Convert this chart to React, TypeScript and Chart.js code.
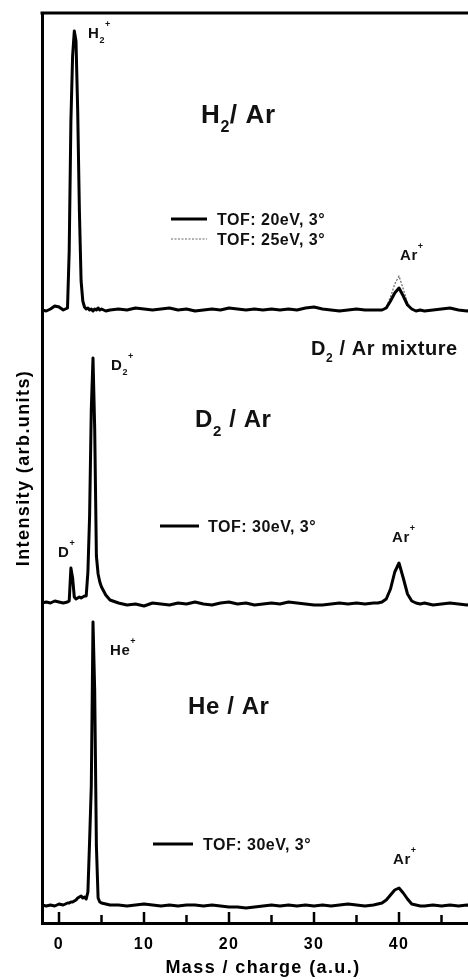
import React, { useEffect, useRef } from "react";
import { Chart, registerables } from "chart.js";

Chart.register(...registerables);

// ---------- data ----------
const MASS = [
  -2, -1.5, -1, -0.5, 0, 0.5, 1,
  1.2, 1.4, 1.6, 1.8, 2, 2.2, 2.4, 2.6, 2.8, 3, 3.2, 3.4, 3.6, 3.8, 4, 4.2, 4.4, 4.6, 4.8, 5,
  5.5, 6,
  7, 8, 9, 10, 11, 12, 13, 14, 15, 16, 17, 18, 19, 20, 21, 22, 23, 24, 25, 26, 27, 28, 29, 30, 31, 32, 33, 34, 35, 36, 37,
  37.5, 38, 38.5, 39, 39.5, 40, 40.5, 41, 41.5, 42, 42.5,
  43, 44, 45, 46, 47, 48, 49, 50,
];

// H2 / Ar, TOF 20 eV, 3 deg (solid)
const H2_AR_20EV = [
  1, 0, 2, 5, 4, 1, 3,
  60, 190, 255, 280, 270, 200, 100, 30, 10, 4, 2, 3, 1, 2, 0, 2, 1, 3, 1, 2,
  0, 1,
  2, 1, 3, 2, 1, 2, 3, 1, 2, 0, 1, 2, 1, 3, 2, 1, 2, 1, 2, 1, 2, 1, 3, 4, 2, 1, 0, 1, 2, 1, 1,
  1, 1, 3, 10, 18, 23, 15, 6, 2, 0, 1,
  0, 1, 2, 3, 1, 0, 2, 1,
];

// H2 / Ar, TOF 25 eV, 3 deg (dotted)
const H2_AR_25EV = [
  1, 0, 2, 4, 5, 2, 3,
  50, 178, 258, 276, 262, 210, 110, 34, 9, 3, 2, 2, 1, 2, 1, 2, 1, 2, 1, 2,
  1, 1,
  2, 1, 2, 2, 1, 2, 3, 1, 2, 1, 1, 2, 1, 3, 2, 1, 2, 1, 2, 1, 2, 1, 3, 4, 2, 1, 1, 1, 2, 1, 1,
  1, 1, 4, 14, 27, 35, 22, 8, 2, 0, 1,
  0, 1, 2, 3, 1, 0, 2, 1,
];

// D2 / Ar, TOF 30 eV, 3 deg
const D2_AR_30EV = [
  1, 2, 1, 3, 2, 1, 2,
  3, 36, 26, 7, 5, 6, 7, 6, 7, 8, 8, 32, 88, 195, 246, 175, 48, 30, 22, 17,
  9, 4,
  1, -1, 0, -2, 1, 0, -1, 1, 0, 2, 0, -1, 1, 2, 0, 1, -1, 0, 1, 0, 2, 1, 0, -1, -1, 0, 1, 0, 1, 0, 1,
  1, 2, 5, 15, 32, 41, 26, 10, 3, 1, 0,
  1, -1, 0, 1, 0, -1, 1, 0,
];

// He / Ar, TOF 30 eV, 3 deg
const HE_AR_30EV = [
  1, 0, 1, 0, 2, 1, 3,
  3, 4, 4, 5, 6, 8, 9, 10, 8, 9, 7, 14, 65, 120, 284, 215, 60, 8, 4, 3,
  2, 1,
  1, 0, 1, 2, 1, 0, 1, 0, 1, 1, 0, 1, 0, -1, -1, -2, -1, 0, 1, 0, 1, 0, 1, 0, 1, 0, 1, 2, 1, 0, 1,
  2, 3, 6, 11, 16, 18, 13, 7, 2, 1, 0,
  0, 1, 0, 1, 0, 1, 0, 1,
];

// vertical stacking offsets of the three spectra (arb. units)
const H2_OFFSET = 612;
const D2_OFFSET = 319;
const HE_OFFSET = 17;

const X_TICKS = [0, 10, 20, 30, 40];
const X_MINOR_TICKS = [0, 5, 10, 15, 20, 25, 30, 35, 40, 45];

const LEGEND_TEXTS = ["TOF: 20eV, 3°", "TOF: 25eV, 3°", "TOF: 30eV, 3°", "TOF: 30eV, 3°"];

// ---------- layout / styling ----------
const FONT = '"Liberation Sans", Arial, sans-serif';

type Part = { t: string; k?: "sub" | "sup" };
type Label = { parts: Part[]; x: number; y: number; size: number; weight: number };

const LABELS: Label[] = [
  { parts: [{ t: "H" }, { t: "2", k: "sub" }, { t: "+", k: "sup" }], x: 88, y: 38, size: 15, weight: 700 },
  { parts: [{ t: "H" }, { t: "2", k: "sub" }, { t: "/ Ar" }], x: 201, y: 123, size: 26, weight: 700 },
  { parts: [{ t: "Ar" }, { t: "+", k: "sup" }], x: 400, y: 260, size: 15, weight: 700 },
  { parts: [{ t: "D" }, { t: "2", k: "sub" }, { t: " / Ar mixture" }], x: 311, y: 355, size: 20, weight: 700 },
  { parts: [{ t: "D" }, { t: "2", k: "sub" }, { t: "+", k: "sup" }], x: 111, y: 370, size: 15, weight: 700 },
  { parts: [{ t: "D" }, { t: "2", k: "sub" }, { t: " / Ar" }], x: 195, y: 427, size: 24, weight: 700 },
  { parts: [{ t: "D" }, { t: "+", k: "sup" }], x: 58, y: 557, size: 15, weight: 700 },
  { parts: [{ t: "Ar" }, { t: "+", k: "sup" }], x: 392, y: 542, size: 15, weight: 700 },
  { parts: [{ t: "He" }, { t: "+", k: "sup" }], x: 110, y: 655, size: 15, weight: 700 },
  { parts: [{ t: "He / Ar" }], x: 188, y: 714, size: 24, weight: 700 },
  { parts: [{ t: "Ar" }, { t: "+", k: "sup" }], x: 393, y: 864, size: 15, weight: 700 },
];

const LEGEND_POS = [
  { x1: 171, x2: 207, y: 219, tx: 217, dotted: false },
  { x1: 171, x2: 207, y: 239, tx: 217, dotted: true },
  { x1: 160, x2: 199, y: 526, tx: 208, dotted: false },
  { x1: 153, x2: 193, y: 844, tx: 203, dotted: false },
];

function drawRich(ctx: CanvasRenderingContext2D, l: Label) {
  let cx = l.x;
  for (const p of l.parts) {
    const s = p.k ? Math.round(l.size * 0.62) : l.size;
    const dy = p.k === "sub" ? l.size * 0.36 : p.k === "sup" ? -l.size * 0.72 : 0;
    ctx.font = `${l.weight} ${s}px ${FONT}`;
    ctx.fillText(p.t, cx, l.y + dy);
    cx += ctx.measureText(p.t).width;
  }
}

const framePlugin = {
  id: "frame",
  beforeDraw(chart: any) {
    (chart.ctx as any).letterSpacing = "1.4px";
  },
  afterDraw(chart: any) {
    const { ctx, chartArea, scales } = chart;
    const xs = scales.x;
    ctx.save();
    ctx.strokeStyle = "#000";
    ctx.lineCap = "butt";
    // top frame line
    ctx.lineWidth = 3;
    ctx.beginPath();
    ctx.moveTo(chartArea.left - 1.5, chartArea.top);
    ctx.lineTo(chartArea.right + 2, chartArea.top);
    ctx.stroke();
    // inward tick marks
    ctx.lineWidth = 2.5;
    for (const v of X_MINOR_TICKS) {
      const px = xs.getPixelForValue(v);
      const len = v % 10 === 0 ? 11 : 8;
      ctx.beginPath();
      ctx.moveTo(px, chartArea.bottom);
      ctx.lineTo(px, chartArea.bottom - len);
      ctx.stroke();
    }
    // annotations
    ctx.fillStyle = "#111";
    ctx.textBaseline = "alphabetic";
    ctx.textAlign = "left";
    (ctx as any).letterSpacing = "0.6px";
    for (const l of LABELS) drawRich(ctx, l);
    // legends
    LEGEND_POS.forEach((p, i) => {
      ctx.save();
      if (p.dotted) {
        ctx.strokeStyle = "#666";
        ctx.lineWidth = 1.2;
        ctx.setLineDash([2, 1.5]);
      } else {
        ctx.strokeStyle = "#000";
        ctx.lineWidth = 3;
      }
      ctx.beginPath();
      ctx.moveTo(p.x1, p.y);
      ctx.lineTo(p.x2, p.y);
      ctx.stroke();
      ctx.restore();
      ctx.font = `700 16px ${FONT}`;
      (ctx as any).letterSpacing = "0.5px";
      ctx.fillText(LEGEND_TEXTS[i], p.tx, p.y + 6);
    });
    ctx.restore();
    (ctx as any).letterSpacing = "0px";
  },
};

function series(values: number[], offset: number) {
  return MASS.map((m, i) => ({ x: m, y: values[i] + offset }));
}

export default function App() {
  const ref = useRef<HTMLCanvasElement>(null);
  useEffect(() => {
    const chart = new Chart(ref.current as HTMLCanvasElement, {
      type: "line",
      data: {
        datasets: [
          { label: "H2/Ar 20eV", data: series(H2_AR_20EV, H2_OFFSET), borderColor: "#000", borderWidth: 3 },
          { label: "D2/Ar 30eV", data: series(D2_AR_30EV, D2_OFFSET), borderColor: "#000", borderWidth: 3 },
          { label: "He/Ar 30eV", data: series(HE_AR_30EV, HE_OFFSET), borderColor: "#000", borderWidth: 3 },
          {
            label: "H2/Ar 25eV",
            data: series(H2_AR_25EV, H2_OFFSET),
            borderColor: "#666",
            borderWidth: 1.2,
            borderDash: [2, 1.5],
          },
        ],
      },
      options: {
        responsive: false,
        devicePixelRatio: 1,
        animation: false,
        layout: { padding: { top: 13, right: 6, left: 0, bottom: 0 } },
        elements: { point: { radius: 0 }, line: { tension: 0, borderJoinStyle: "round" } },
        plugins: { legend: { display: false }, tooltip: { enabled: false } },
        scales: {
          x: {
            type: "linear",
            position: "bottom",
            min: -2,
            max: 50,
            grid: { display: false, drawTicks: false },
            border: { display: true, width: 3, color: "#000" },
            ticks: { padding: 12, color: "#000", font: { family: FONT, size: 16, weight: "bold" } },
            afterBuildTicks: (s: any) => {
              s.ticks = X_TICKS.map((v) => ({ value: v }));
            },
            afterFit: (s: any) => {
              s.height = 56;
            },
            title: {
              display: true,
              text: "Mass / charge (a.u.)",
              color: "#000",
              font: { family: FONT, size: 18, weight: "bold" },
              padding: { top: 0, bottom: 0 },
            },
          },
          y: {
            type: "linear",
            min: 0,
            max: 910,
            grid: { display: false, drawTicks: false },
            border: { display: true, width: 3, color: "#000" },
            ticks: { display: false },
            afterFit: (s: any) => {
              s.width = 42;
            },
            title: {
              display: true,
              text: "Intensity (arb.units)",
              color: "#000",
              font: { family: FONT, size: 18, weight: "bold" },
              padding: { top: 13, bottom: 0 },
            },
          },
        },
      },
      plugins: [framePlugin],
    } as any);
    return () => chart.destroy();
  }, []);
  return (
    <div
      style={{
        position: "fixed",
        left: 0,
        top: 0,
        width: 468,
        height: 979,
        overflow: "hidden",
        background: "#fff",
      }}
    >
      <canvas ref={ref} width={490} height={979} style={{ display: "block", width: 490, height: 979 }} />
    </div>
  );
}
